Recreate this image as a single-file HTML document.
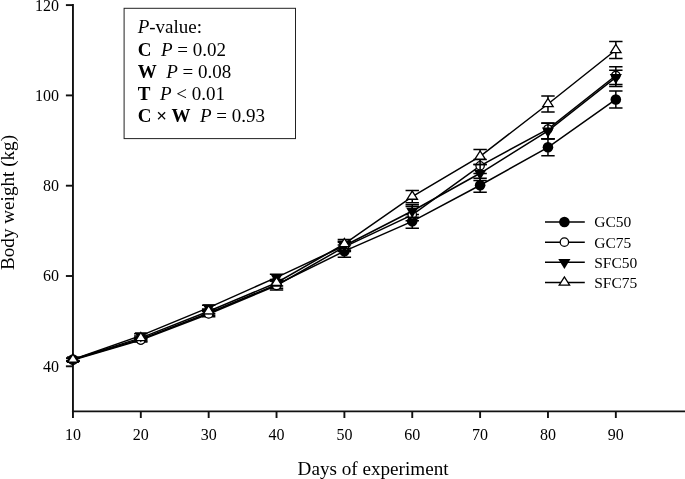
<!DOCTYPE html>
<html><head><meta charset="utf-8"><title>Chart</title>
<style>
html,body{margin:0;padding:0;background:#fff;}
body{width:685px;height:479px;position:relative;overflow:hidden;}
svg{will-change:transform;}
svg text{font-family:"Liberation Serif",serif;fill:#000;}
</style></head><body>
<svg width="685" height="479" viewBox="0 0 685 479" style="position:absolute;left:0;top:0">
<rect width="685" height="479" fill="#fff"/>
<g stroke="#111" stroke-width="1.9" fill="none">
<line x1="72.95" y1="4.1" x2="72.95" y2="418"/>
</g>
<g stroke="#111" stroke-width="1.6" fill="none">
<line x1="71.95" y1="411.4" x2="685" y2="411.4"/>
<line x1="65.9" y1="366.30" x2="72.95" y2="366.30" stroke-width="1.9"/>
<line x1="65.9" y1="276.00" x2="72.95" y2="276.00" stroke-width="1.9"/>
<line x1="65.9" y1="185.70" x2="72.95" y2="185.70" stroke-width="1.9"/>
<line x1="65.9" y1="95.40" x2="72.95" y2="95.40" stroke-width="1.9"/>
<line x1="65.9" y1="5.10" x2="72.95" y2="5.10" stroke-width="1.9"/>
<line x1="140.81" y1="411.4" x2="140.81" y2="418" stroke-width="1.9"/>
<line x1="208.67" y1="411.4" x2="208.67" y2="418" stroke-width="1.9"/>
<line x1="276.53" y1="411.4" x2="276.53" y2="418" stroke-width="1.9"/>
<line x1="344.39" y1="411.4" x2="344.39" y2="418" stroke-width="1.9"/>
<line x1="412.25" y1="411.4" x2="412.25" y2="418" stroke-width="1.9"/>
<line x1="480.11" y1="411.4" x2="480.11" y2="418" stroke-width="1.9"/>
<line x1="547.97" y1="411.4" x2="547.97" y2="418" stroke-width="1.9"/>
<line x1="615.83" y1="411.4" x2="615.83" y2="418" stroke-width="1.9"/>
</g>
<g stroke="#000" stroke-width="1.5" fill="none">
<polyline points="72.95,359.53 140.81,339.21 208.67,313.02 276.53,284.58 344.39,251.17 412.25,221.37 480.11,185.25 547.97,147.32 615.83,99.46"/>
<path d="M72.95,358.17V360.88M66.25,358.17H79.65M66.25,360.88H79.65"/>
<path d="M140.81,337.40V341.02M134.11,337.40H147.51M134.11,341.02H147.51"/>
<path d="M208.67,310.77V315.28M201.97,310.77H215.37M201.97,315.28H215.37"/>
<path d="M276.53,280.97V288.19M269.83,280.97H283.23M269.83,288.19H283.23"/>
<path d="M344.39,245.07V257.26M337.69,245.07H351.09M337.69,257.26H351.09"/>
<path d="M412.25,214.60V228.14M405.55,214.60H418.95M405.55,228.14H418.95"/>
<path d="M480.11,178.25V192.25M473.41,178.25H486.81M473.41,192.25H486.81"/>
<path d="M547.97,138.97V155.68M541.27,138.97H554.67M541.27,155.68H554.67"/>
<path d="M615.83,91.02V107.91M609.13,91.02H622.53M609.13,107.91H622.53"/>
</g>
<circle cx="72.95" cy="359.53" r="5.3" fill="#000"/>
<circle cx="140.81" cy="339.21" r="5.3" fill="#000"/>
<circle cx="208.67" cy="313.02" r="5.3" fill="#000"/>
<circle cx="276.53" cy="284.58" r="5.3" fill="#000"/>
<circle cx="344.39" cy="251.17" r="5.3" fill="#000"/>
<circle cx="412.25" cy="221.37" r="5.3" fill="#000"/>
<circle cx="480.11" cy="185.25" r="5.3" fill="#000"/>
<circle cx="547.97" cy="147.32" r="5.3" fill="#000"/>
<circle cx="615.83" cy="99.46" r="5.3" fill="#000"/>
<g stroke="#000" stroke-width="1.5" fill="none">
<polyline points="72.95,359.98 140.81,340.11 208.67,313.93 276.53,285.48 344.39,246.88 412.25,214.82 480.11,165.83 547.97,129.04 615.83,75.53"/>
<path d="M72.95,358.62V361.33M66.25,358.62H79.65M66.25,361.33H79.65"/>
<path d="M140.81,338.31V341.92M134.11,338.31H147.51M134.11,341.92H147.51"/>
<path d="M208.67,311.22V316.63M201.97,311.22H215.37M201.97,316.63H215.37"/>
<path d="M276.53,280.97V290.00M269.83,280.97H283.23M269.83,290.00H283.23"/>
<path d="M344.39,242.36V251.39M337.69,242.36H351.09M337.69,251.39H351.09"/>
<path d="M412.25,206.47V220.69M405.55,206.47H418.95M405.55,220.69H418.95"/>
<path d="M480.11,159.51V173.42M473.41,159.51H486.81M473.41,173.42H486.81"/>
<path d="M547.97,123.17V138.74M541.27,123.17H554.67M541.27,138.74H554.67"/>
<path d="M615.83,66.73V86.60M609.13,66.73H622.53M609.13,86.60H622.53"/>
</g>
<circle cx="72.95" cy="359.98" r="4.2" fill="#fff" stroke="#000" stroke-width="1.3"/>
<circle cx="140.81" cy="340.11" r="4.2" fill="#fff" stroke="#000" stroke-width="1.3"/>
<circle cx="208.67" cy="313.93" r="4.2" fill="#fff" stroke="#000" stroke-width="1.3"/>
<circle cx="276.53" cy="285.48" r="4.2" fill="#fff" stroke="#000" stroke-width="1.3"/>
<circle cx="344.39" cy="246.88" r="4.2" fill="#fff" stroke="#000" stroke-width="1.3"/>
<circle cx="412.25" cy="214.82" r="4.2" fill="#fff" stroke="#000" stroke-width="1.3"/>
<circle cx="480.11" cy="165.83" r="4.2" fill="#fff" stroke="#000" stroke-width="1.3"/>
<circle cx="547.97" cy="129.04" r="4.2" fill="#fff" stroke="#000" stroke-width="1.3"/>
<circle cx="615.83" cy="75.53" r="4.2" fill="#fff" stroke="#000" stroke-width="1.3"/>
<g stroke="#000" stroke-width="1.5" fill="none">
<polyline points="72.95,359.53 140.81,335.60 208.67,307.61 276.53,277.35 344.39,245.75 412.25,210.98 480.11,173.28 547.97,130.84 615.83,77.34"/>
<path d="M72.95,358.17V360.88M66.25,358.17H79.65M66.25,360.88H79.65"/>
<path d="M140.81,333.79V337.40M134.11,333.79H147.51M134.11,337.40H147.51"/>
<path d="M208.67,305.35V309.86M201.97,305.35H215.37M201.97,309.86H215.37"/>
<path d="M276.53,274.19V280.51M269.83,274.19H283.23M269.83,280.51H283.23"/>
<path d="M344.39,241.23V250.26M337.69,241.23H351.09M337.69,250.26H351.09"/>
<path d="M412.25,204.66V217.31M405.55,204.66H418.95M405.55,217.31H418.95"/>
<path d="M480.11,164.57V180.51M473.41,164.57H486.81M473.41,180.51H486.81"/>
<path d="M547.97,122.94V138.74M541.27,122.94H554.67M541.27,138.74H554.67"/>
<path d="M615.83,70.30V84.38M609.13,70.30H622.53M609.13,84.38H622.53"/>
</g>
<polygon points="66.85,356.23 79.05,356.23 72.95,366.33" fill="#000"/>
<polygon points="134.71,332.30 146.91,332.30 140.81,342.40" fill="#000"/>
<polygon points="202.57,304.31 214.77,304.31 208.67,314.41" fill="#000"/>
<polygon points="270.43,274.05 282.63,274.05 276.53,284.15" fill="#000"/>
<polygon points="338.29,242.45 350.49,242.45 344.39,252.55" fill="#000"/>
<polygon points="406.15,207.68 418.35,207.68 412.25,217.78" fill="#000"/>
<polygon points="474.01,169.98 486.21,169.98 480.11,180.08" fill="#000"/>
<polygon points="541.87,127.54 554.07,127.54 547.97,137.64" fill="#000"/>
<polygon points="609.73,74.04 621.93,74.04 615.83,84.14" fill="#000"/>
<g stroke="#000" stroke-width="1.5" fill="none">
<polyline points="72.95,359.53 140.81,337.86 208.67,311.22 276.53,282.77 344.39,243.94 412.25,196.54 480.11,156.35 547.97,103.98 615.83,50.02"/>
<path d="M72.95,358.17V360.88M66.25,358.17H79.65M66.25,360.88H79.65"/>
<path d="M140.81,336.05V339.66M134.11,336.05H147.51M134.11,339.66H147.51"/>
<path d="M208.67,308.96V313.47M201.97,308.96H215.37M201.97,313.47H215.37"/>
<path d="M276.53,279.61V285.93M269.83,279.61H283.23M269.83,285.93H283.23"/>
<path d="M344.39,239.43V248.46M337.69,239.43H351.09M337.69,248.46H351.09"/>
<path d="M412.25,190.44V202.63M405.55,190.44H418.95M405.55,202.63H418.95"/>
<path d="M480.11,149.58V164.61M473.41,149.58H486.81M473.41,164.61H486.81"/>
<path d="M547.97,96.03V111.92M541.27,96.03H554.67M541.27,111.92H554.67"/>
<path d="M615.83,41.58V58.47M609.13,41.58H622.53M609.13,58.47H622.53"/>
</g>
<polygon points="67.75,362.23 78.15,362.23 72.95,354.03" fill="#fff" stroke="#000" stroke-width="1.3" stroke-linejoin="miter"/>
<polygon points="135.61,340.56 146.01,340.56 140.81,332.36" fill="#fff" stroke="#000" stroke-width="1.3" stroke-linejoin="miter"/>
<polygon points="203.47,313.92 213.87,313.92 208.67,305.72" fill="#fff" stroke="#000" stroke-width="1.3" stroke-linejoin="miter"/>
<polygon points="271.33,285.47 281.73,285.47 276.53,277.27" fill="#fff" stroke="#000" stroke-width="1.3" stroke-linejoin="miter"/>
<polygon points="339.19,246.64 349.59,246.64 344.39,238.44" fill="#fff" stroke="#000" stroke-width="1.3" stroke-linejoin="miter"/>
<polygon points="407.05,199.24 417.45,199.24 412.25,191.04" fill="#fff" stroke="#000" stroke-width="1.3" stroke-linejoin="miter"/>
<polygon points="474.91,159.05 485.31,159.05 480.11,150.85" fill="#fff" stroke="#000" stroke-width="1.3" stroke-linejoin="miter"/>
<polygon points="542.77,106.68 553.17,106.68 547.97,98.48" fill="#fff" stroke="#000" stroke-width="1.3" stroke-linejoin="miter"/>
<polygon points="610.63,52.72 621.03,52.72 615.83,44.52" fill="#fff" stroke="#000" stroke-width="1.3" stroke-linejoin="miter"/>
<line x1="545" y1="222.0" x2="584.8" y2="222.0" stroke="#000" stroke-width="1.5"/>
<circle cx="564.40" cy="222.00" r="5.3" fill="#000"/>
<text x="594.2" y="227.3" font-size="15.5">GC50</text>
<line x1="545" y1="242.15" x2="584.8" y2="242.15" stroke="#000" stroke-width="1.5"/>
<circle cx="564.40" cy="242.15" r="4.2" fill="#fff" stroke="#000" stroke-width="1.3"/>
<text x="594.2" y="247.5" font-size="15.5">GC75</text>
<line x1="545" y1="262.3" x2="584.8" y2="262.3" stroke="#000" stroke-width="1.5"/>
<polygon points="558.30,259.00 570.50,259.00 564.40,269.10" fill="#000"/>
<text x="594.2" y="267.6" font-size="15.5">SFC50</text>
<line x1="545" y1="282.45" x2="584.8" y2="282.45" stroke="#000" stroke-width="1.5"/>
<polygon points="559.20,285.15 569.60,285.15 564.40,276.95" fill="#fff" stroke="#000" stroke-width="1.3" stroke-linejoin="miter"/>
<text x="594.2" y="287.8" font-size="15.5">SFC75</text>
<text x="59" y="371.7" font-size="16" text-anchor="end">40</text>
<text x="59" y="281.4" font-size="16" text-anchor="end">60</text>
<text x="59" y="191.1" font-size="16" text-anchor="end">80</text>
<text x="59" y="100.8" font-size="16" text-anchor="end">100</text>
<text x="59" y="10.5" font-size="16" text-anchor="end">120</text>
<text x="72.95" y="440.2" font-size="16" text-anchor="middle">10</text>
<text x="140.81" y="440.2" font-size="16" text-anchor="middle">20</text>
<text x="208.67" y="440.2" font-size="16" text-anchor="middle">30</text>
<text x="276.53" y="440.2" font-size="16" text-anchor="middle">40</text>
<text x="344.39" y="440.2" font-size="16" text-anchor="middle">50</text>
<text x="412.25" y="440.2" font-size="16" text-anchor="middle">60</text>
<text x="480.11" y="440.2" font-size="16" text-anchor="middle">70</text>
<text x="547.97" y="440.2" font-size="16" text-anchor="middle">80</text>
<text x="615.83" y="440.2" font-size="16" text-anchor="middle">90</text>
<text x="373.1" y="475" font-size="19.15" text-anchor="middle">Days of experiment</text>
<text transform="translate(13.8,202.5) rotate(-90)" font-size="19.15" text-anchor="middle">Body weight (kg)</text>
<rect x="124.1" y="8.3" width="171.4" height="130.3" fill="#fff" stroke="#222" stroke-width="1"/>
<text x="137.7" y="33.3" font-size="19" xml:space="preserve"><tspan font-style="italic">P</tspan>-value:</text>
<text x="137.7" y="56" font-size="19" xml:space="preserve"><tspan font-weight="bold">C</tspan>  <tspan font-style="italic">P</tspan> = 0.02</text>
<text x="137.7" y="78" font-size="19" xml:space="preserve"><tspan font-weight="bold">W</tspan>  <tspan font-style="italic">P</tspan> = 0.08</text>
<text x="137.7" y="99.8" font-size="19" xml:space="preserve"><tspan font-weight="bold">T</tspan>  <tspan font-style="italic">P</tspan> &lt; 0.01</text>
<text x="137.7" y="121.6" font-size="19" xml:space="preserve"><tspan font-weight="bold">C × W</tspan>  <tspan font-style="italic">P</tspan> = 0.93</text>
</svg>
</body></html>
